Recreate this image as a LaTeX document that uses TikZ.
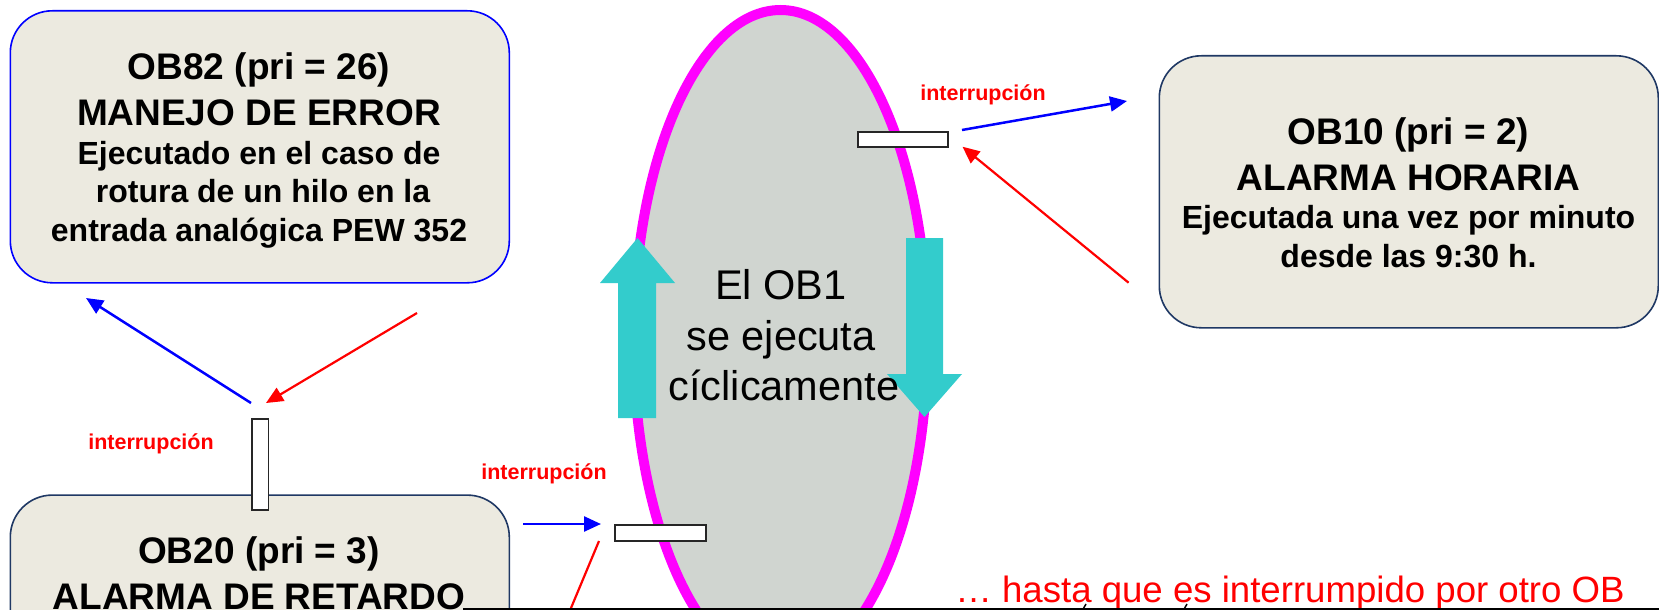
\documentclass[tikz,border=0pt]{standalone}
\usepackage{fontspec}
\setmainfont{Liberation Sans}
\usetikzlibrary{arrows.meta,shapes.geometric}
\definecolor{boxfill}{RGB}{236,234,224}
\definecolor{ovalfill}{RGB}{208,213,208}
\definecolor{cyanarrow}{RGB}{51,204,204}
\definecolor{navyline}{RGB}{31,56,100}
\definecolor{magentaline}{RGB}{255,0,255}
\begin{document}
\begin{tikzpicture}[x=1pt,y=-1pt,
  obbox/.style={rectangle, rounded corners=42pt, fill=boxfill, line width=1.6pt,
    minimum width=499pt, minimum height=272pt, inner sep=0pt, anchor=north west},
  bigline/.style={anchor=base, inner sep=0pt, font=\fontsize{37}{44}\selectfont\bfseries},
  smallline/.style={anchor=base, inner sep=0pt, font=\fontsize{32}{38}\selectfont\bfseries},
  ovaltext/.style={anchor=base, inner sep=0pt, font=\fontsize{41.5}{50}\selectfont},
  intlabel/.style={anchor=base, inner sep=0pt, text=red, font=\fontsize{21.5}{26}\selectfont\bfseries},
  intrect/.style={rectangle, draw={black!85}, fill=white, line width=1.8pt, inner sep=0pt, anchor=north west},
  bluearr/.style={draw=blue, line width=2.5pt, -{Triangle[length=17pt,width=15pt]}},
  redarr/.style={draw=red, line width=2.2pt, -{Triangle[length=17pt,width=15pt]}},
  cyanshape/.style={fill=cyanarrow}
]
\useasboundingbox (0,0) rectangle (1659,610);

% central oval
\node[ellipse, draw=magentaline, fill=ovalfill, line width=10pt, minimum width=294pt, minimum height=660pt, inner sep=0pt] (ob1) at (780.5,340) {};

% cyan arrows
\fill[cyanshape] (618,418) -- (618,283) -- (600,283) -- (637.5,238) -- (675,283) -- (656,283) -- (656,418) -- cycle;
\fill[cyanshape] (906,238) -- (906,374) -- (887,374) -- (924.5,417) -- (962,374) -- (943,374) -- (943,238) -- cycle;

% oval text
\node[ovaltext] (ob1a) at (781,299.5) {El OB1};
\node[ovaltext] (ob1b) at (781,350) {se ejecuta};
\node[ovaltext] (ob1c) at (784,400.6) {cíclicamente};

% boxes
\node[obbox, draw=blue] (ob82) at (9.5,10) {};
\node[obbox, draw=navyline] (ob10) at (1158.5,55) {};
\node[obbox, draw=navyline] (ob20) at (9.5,494.3) {};

% OB82 text
\node[bigline] (ob82a) at (259,80) {OB82 (pri = 26)};
\node[bigline] (ob82b) at (259,125) {MANEJO DE ERROR};
\node[smallline] (ob82c) at (259,164) {Ejecutado en el caso de};
\node[smallline] (ob82d) at (263,202) {rotura de un hilo en la};
\node[smallline] (ob82e) at (259,241) {entrada analógica PEW 352};

% OB10 text
\node[bigline] (ob10a) at (1408.5,144) {OB10 (pri = 2)};
\node[bigline] (ob10b) at (1408.5,190) {ALARMA HORARIA};
\node[smallline] (ob10c) at (1408.5,228) {Ejecutada una vez por minuto};
\node[smallline] (ob10d) at (1408.5,267) {desde las 9:30 h.};

% OB20 text
\node[bigline] (ob20a) at (259,563) {OB20 (pri = 3)};
\node[bigline] (ob20b) at (259,609) {ALARMA DE RETARDO};

% interruption rectangles
\node[intrect, minimum width=90pt, minimum height=15pt] (r10) at (857,131) {};
\node[intrect, minimum width=91pt, minimum height=16pt] (r20) at (614,524) {};
\node[intrect, minimum width=16.5pt, minimum height=91pt] (r82) at (251,418) {};

% labels
\node[intlabel] (l10) at (983,100) {interrupción};
\node[intlabel] (l82) at (151,449) {interrupción};
\node[intlabel] (l20) at (544,479) {interrupción};

% arrow end points
\coordinate (b10s) at (962,130);
\coordinate (b10e) at (1127,101);
\coordinate (r10s) at (1128.6,282.7);
\coordinate (r10e) at (962.5,146.7);
\coordinate (b82s) at (251,403);
\coordinate (b82e) at (86,298);
\coordinate (r82s) at (417,313);
\coordinate (r82e) at (266,403);
\coordinate (b20s) at (523,524);
\coordinate (b20e) at (601,524);
\coordinate (r20s) at (566,620);
\coordinate (r20e) at (599,541);

\draw[bluearr] (b10s) -- (b10e);
\draw[redarr] (r10s) -- (r10e);
\draw[bluearr] (b82s) -- (b82e);
\draw[redarr] (r82s) -- (r82e);
\draw[bluearr] (b20s) -- (b20e);
\draw[draw=red, line width=2.2pt] (r20s) -- (r20e);

% bottom text
\node[anchor=base, inner sep=0pt, text=red, font=\fontsize{36.6}{44}\selectfont] (hasta) at (1290,602) {… hasta que es interrumpido por otro OB};

% bottom rule and cut-off marks
\coordinate (rulea) at (463,608.8);
\coordinate (ruleb) at (1659,608.8);
\draw[line width=2pt] (rulea) -- (ruleb);
\draw[line width=1.5pt] (1082,611) -- (1086,604);
\draw[line width=1.5pt] (1183,611) -- (1187,604);
\end{tikzpicture}
\end{document}
